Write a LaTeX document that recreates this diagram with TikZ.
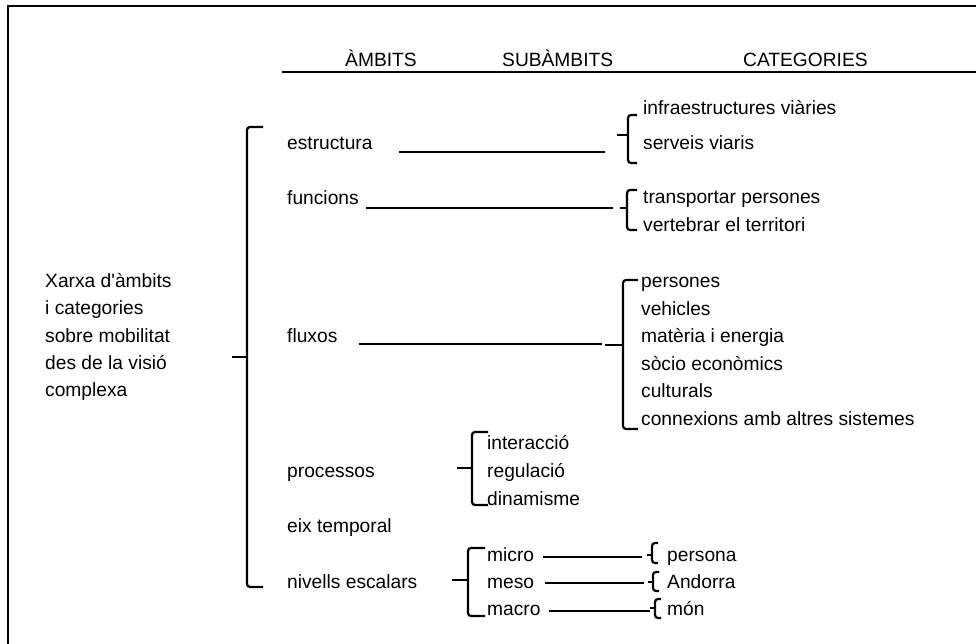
\documentclass[tikz,border=0pt]{standalone}
\usepackage{fontspec}
\setmainfont{Liberation Sans}[Ligatures=TeXOff]

% clau: x, dalt, baix, mig, punta, ganxo
\newcommand{\clau}[6]{%
  \draw[clau] (#6,#2) -- (#1,#2) -- (#1,#3) -- (#6,#3);
  \draw[clau] (#5,#4) -- (#1,#4);
}

\begin{document}
\begin{tikzpicture}[x=1pt,y=-1pt,
    etiq/.style={font=\fontsize{19.2}{23}\selectfont,inner sep=0pt,anchor=base west},
    linia/.style={line width=2.2pt},
    clau/.style={line width=2.2pt,rounded corners=3pt}]
          \useasboundingbox (0,0) rectangle (976,644);
          \draw[line width=2pt] (8,650) -- (8,6) -- (980,6);

          \node[etiq] (ambits) at (345,67) {ÀMBITS};
          \node[etiq] (subambits) at (502,67) {SUBÀMBITS};
          \node[etiq] (categories) at (743,67) {CATEGORIES};
          \draw[linia] (282,72) -- (980,72);

          \node[etiq] (xarxa1) at (45,287) {Xarxa d'àmbits};
          \node[etiq] (xarxa2) at (45,314) {i categories};
          \node[etiq] (xarxa3) at (45,342) {sobre mobilitat};
          \node[etiq] (xarxa4) at (45,369) {des de la visió};
          \node[etiq] (xarxa5) at (45,396) {complexa};
          \clau{247}{127}{587}{357}{232}{263}

          \node[etiq] (estructura) at (287,150) {estructura};
          \node[etiq] (funcions) at (287,205) {funcions};
          \node[etiq] (fluxos) at (287,342) {fluxos};
          \node[etiq] (processos) at (287,477) {processos};
          \node[etiq] (eix) at (287,532) {eix temporal};
          \node[etiq] (nivells) at (287,588) {nivells escalars};

          \coordinate (fiEst) at (605,152);
          \coordinate (fiFun) at (613,208);
          \coordinate (fiFlu) at (602,344);
          \draw[linia] ([xshift=26pt,yshift=-2pt]estructura.base east) -- (fiEst);
          \draw[linia] ([xshift=7pt,yshift=-3pt]funcions.base east) -- (fiFun);
          \draw[linia] ([xshift=21pt,yshift=-2pt]fluxos.base east) -- (fiFlu);

          \clau{628}{115}{163}{135}{617}{637}
          \node[etiq] (infra) at (643,115) {infraestructures viàries};
          \node[etiq] (serveis) at (643,150) {serveis viaris};

          \clau{627}{190}{230}{208}{620}{637}
          \node[etiq] (transportar) at (643,204) {transportar persones};
          \node[etiq] (vertebrar) at (643,232) {vertebrar el territori};

          \clau{623}{280}{429}{345}{605}{638}
          \node[etiq] (persones) at (641,287) {persones};
          \node[etiq] (vehicles) at (641,315) {vehicles};
          \node[etiq] (materia) at (641,342) {matèria i energia};
          \node[etiq] (socio) at (641,370) {sòcio econòmics};
          \node[etiq] (culturals) at (641,397) {culturals};
          \node[etiq] (connexions) at (641,425) {connexions amb altres sistemes};

          \clau{472}{432}{505}{468}{457}{488}
          \node[etiq] (interaccio) at (487,449) {interacció};
          \node[etiq] (regulacio) at (487,477) {regulació};
          \node[etiq] (dinamisme) at (487,505) {dinamisme};

          \clau{468}{548}{616}{580}{452}{485}
          \node[etiq] (micro) at (487,561) {micro};
          \node[etiq] (meso) at (487,588) {meso};
          \node[etiq] (macro) at (487,615) {macro};

          \coordinate (fiMic) at (642,557);
          \coordinate (fiMes) at (644,583);
          \coordinate (fiMac) at (650,611);
          \draw[linia] ([xshift=9pt,yshift=4pt]micro.base east) -- (fiMic);
          \draw[linia] ([xshift=11pt,yshift=5pt]meso.base east) -- (fiMes);
          \draw[linia] ([xshift=8pt,yshift=4pt]macro.base east) -- (fiMac);

          \clau{652}{543}{563}{555}{647}{658}
          \clau{653}{572}{591}{582}{648}{659}
          \clau{655}{599}{618}{608}{650}{661}
          \node[etiq] (persona) at (667,561) {persona};
          \node[etiq] (andorra) at (667,588) {Andorra};
          \node[etiq] (mon) at (667,615) {món};
        \end{tikzpicture}
\end{document}
